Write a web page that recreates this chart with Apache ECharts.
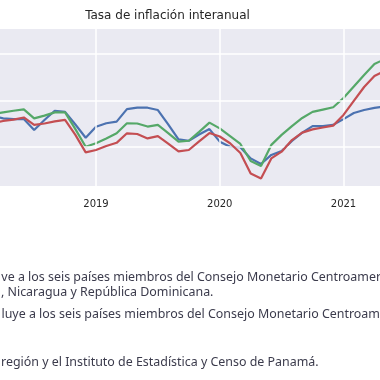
<!DOCTYPE html>
<html><head><meta charset="utf-8">
<script src="https://cdn.jsdelivr.net/npm/echarts@6/dist/echarts.min.js"></script>
<style>html,body{margin:0;padding:0;background:#fff}#c{width:380px;height:380px}</style>
</head><body><div id="c"></div>
<script>
const months = ['2018-03','2018-04','2018-05','2018-06','2018-07','2018-08','2018-09','2018-10','2018-11','2018-12',
'2019-01','2019-02','2019-03','2019-04','2019-05','2019-06','2019-07','2019-08','2019-09','2019-10','2019-11','2019-12',
'2020-01','2020-02','2020-03','2020-04','2020-05','2020-06','2020-07','2020-08','2020-09','2020-10','2020-11','2020-12',
'2021-01','2021-02','2021-03','2021-04','2021-05'];
const serieAzul = [3.33,3.23,3.20,3.20,2.73,3.16,3.56,3.51,2.97,2.40,
2.87,3.02,3.09,3.63,3.69,3.69,3.59,2.97,2.33,2.27,2.54,2.77,
2.23,2.01,1.99,1.51,1.27,1.66,1.83,2.26,2.62,2.90,2.90,2.95,
3.20,3.46,3.59,3.68,3.74];
const serieVerde = [3.42,3.49,3.56,3.62,3.23,3.35,3.49,3.49,2.77,2.01,
2.16,2.37,2.59,3.02,3.01,2.88,2.95,2.60,2.23,2.27,2.65,3.05,
2.80,2.47,2.13,1.40,1.18,2.09,2.52,2.90,3.25,3.51,3.61,3.71,
4.11,4.60,5.10,5.57,5.78];
const serieRoja = [3.03,3.12,3.18,3.27,2.95,3.01,3.10,3.17,2.52,1.77,
1.87,2.04,2.18,2.59,2.56,2.37,2.47,2.15,1.81,1.87,2.24,2.60,
2.45,2.16,1.74,0.86,0.65,1.51,1.80,2.30,2.62,2.76,2.84,2.92,
3.38,3.98,4.58,5.05,5.27];
const yearTicks = [2019, 2020, 2021];
const yGrid = [2, 4, 6];
const title = 'Tasa de inflación interanual';
const note1 = 've a los seis países miembros del Consejo Monetario Centroamericano';
const note2 = ', Nicaragua y República Dominicana.';
const note3 = 'luye a los seis países miembros del Consejo Monetario Centroamericano';
const note4 = 'región y el Instituto de Estadística y Censo de Panamá.';

function xOf(m){ const p = m.split('-'); return +p[0] + (+p[1]-1)/12; }
function pts(arr){ return arr.map((v,i)=>[xOf(months[i]), v]); }

const NOTE_FAMILY = 'Noto Sans';
const ctx = document.createElement('canvas').getContext('2d');
function tw(text, size){ ctx.font = size + 'px "' + NOTE_FAMILY + '"'; return ctx.measureText(text).width; }
const noteSize = 100 * 318 / tw(note4, 100);
const x1 = 197 - tw('ve a los seis países miembros del ', noteSize);
const x3 = 208 - tw('luye a los seis países miembros del ', noteSize);
const x2 = 7.5 - tw(', ', noteSize);
const noteColor = '#3b3b4c';
function noteText(t, x, y){
  return {type:'text', x:x, y:y, silent:true, style:{text:t, fill:noteColor, fontFamily:NOTE_FAMILY, fontSize:noteSize, textAlign:'left', textVerticalAlign:'middle'}};
}

const chart = echarts.init(document.getElementById('c'), null, {renderer:'canvas'});
const lw = 2.2;
chart.setOption({
  animation:false,
  grid:{left:0,right:0,top:29,bottom:194,show:true,backgroundColor:'#eaeaf2',borderWidth:0},
  xAxis:{type:'value', min:2018.2242, max:2021.295,
    axisLine:{show:false}, axisTick:{show:false}, splitLine:{show:false},
    axisLabel:{customValues:yearTicks, formatter:v=>String(v), fontFamily:'DejaVu Sans', fontSize:10, color:'#262626', margin:13}},
  yAxis:{type:'value', min:0.323, max:7.075, axisLine:{show:false}, axisTick:{show:false}, splitLine:{show:false}, axisLabel:{show:false}},
  graphic:[
    {type:'text', x:167.5, y:15.5, silent:true, style:{text:title, fill:'#262626', fontFamily:'DejaVu Sans', fontSize:12, textAlign:'center', textVerticalAlign:'middle'}},
    noteText(note1, x1, 277.5),
    noteText(note2, x2, 292),
    noteText(note3, x3, 314.5),
    noteText(note4, 1, 362)
  ],
  series:[
    {type:'line', z:1, data:pts(serieAzul), showSymbol:false, lineStyle:{opacity:0}, silent:true,
      markLine:{silent:true, symbol:'none', label:{show:false}, lineStyle:{color:'#ffffff', width:1.5, type:'solid'},
        data: yearTicks.map(v=>({xAxis:v})).concat(yGrid.map(v=>({yAxis:v})))}},
    {type:'line', z:3, data:pts(serieAzul), showSymbol:false, lineStyle:{color:'#4c72b0', width:lw}, itemStyle:{color:'#4c72b0'}},
    {type:'line', z:4, data:pts(serieVerde), showSymbol:false, lineStyle:{color:'#55a868', width:lw}, itemStyle:{color:'#55a868'}},
    {type:'line', z:5, data:pts(serieRoja), showSymbol:false, lineStyle:{color:'#c44e52', width:lw}, itemStyle:{color:'#c44e52'}}
  ]
});
</script></body></html>
